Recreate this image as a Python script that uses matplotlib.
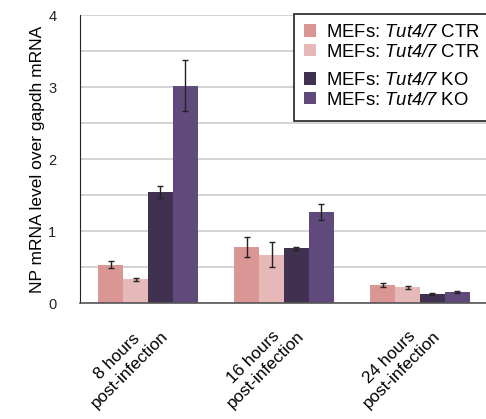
import matplotlib
matplotlib.use("Agg")
import matplotlib.pyplot as plt
import numpy as np
from matplotlib.patches import Patch, Rectangle

plt.rcParams['font.family'] = ['Liberation Sans', 'DejaVu Sans']
plt.rcParams['mathtext.fontset'] = 'custom'
plt.rcParams['mathtext.it'] = 'Liberation Sans:italic'
plt.rcParams['mathtext.rm'] = 'Liberation Sans:italic'

categories = ["8 hours\npost-infection", "16 hours\npost-infection", "24 hours\npost-infection"]
series_labels = [r"MEFs: $Tut4/7$ CTR", r"MEFs: $Tut4/7$ CTR",
                 r"MEFs: $Tut4/7$ KO", r"MEFs: $Tut4/7$ KO"]
ctr1 = [0.53, 0.78, 0.25]
ctr2 = [0.33, 0.67, 0.22]
ko1 = [1.54, 0.76, 0.125]
ko2 = [3.02, 1.26, 0.15]
ctr1_err = [0.05, 0.14, 0.03]
ctr2_err = [0.02, 0.175, 0.02]
ko1_err = [0.085, 0.02, 0.01]
ko2_err = [0.36, 0.11, 0.015]
colors = ["#D99694", "#E6B9B8", "#403151", "#604A7B"]

values = [ctr1, ctr2, ko1, ko2]
errors = [ctr1_err, ctr2_err, ko1_err, ko2_err]

fig = plt.figure(figsize=(4.86, 4.19), dpi=100)
ax = fig.add_axes([80/486, 1-303/419, 408/486, 288/419])

x = np.arange(len(categories))
w = 0.1825
for i, (v, e, c) in enumerate(zip(values, errors, colors)):
    pos = x + (i - 1.5) * w
    ax.bar(pos, v, width=w, color=c, zorder=2)
    ax.errorbar(pos, v, yerr=e, fmt='none', ecolor='#222222', elinewidth=1.0,
                capsize=2, capthick=1.0, zorder=3)

ax.set_xlim(-0.5, 2.5)
ax.set_ylim(0, 4)
ax.set_yticks([0, 1, 2, 3, 4])
ax.set_yticks(np.arange(0, 4.01, 0.5), minor=True)
ax.grid(axis='y', which='both', color='#d0d0d0', linewidth=1.3, zorder=0)
ax.set_axisbelow(True)
ax.tick_params(axis='y', which='both', length=0, pad=17, labelsize=10.5, labelcolor='#222222')
ax.tick_params(axis='x', length=0, pad=9, labelsize=12.3)
ax.set_xticks(x)
ax.set_xticklabels(categories, rotation=45, ha='right', rotation_mode='anchor',
                   multialignment='center', linespacing=1.25)
for s in ['top', 'right']:
    ax.spines[s].set_visible(False)
ax.spines['left'].set_color('#222222')
ax.spines['bottom'].set_color('#555555')
ax.spines['bottom'].set_linewidth(1.2)
ax.set_ylabel("NP mRNA level over gapdh mRNA", fontsize=12.5, labelpad=2)

# legend
frame = Rectangle((294/486, 1-121/419), 200/486, 107/419, transform=fig.transFigure,
                  facecolor='white', edgecolor='#222222', linewidth=1.2, zorder=5)
fig.patches.append(frame)
h1 = [Patch(facecolor=colors[0]), Patch(facecolor=colors[1])]
h2 = [Patch(facecolor=colors[2]), Patch(facecolor=colors[3])]
kw = dict(loc='upper left', frameon=False, fontsize=13.3, handlelength=0.65, handleheight=0.65,
          handletextpad=0.55, labelspacing=0.15, borderpad=0, borderaxespad=0)
leg1 = fig.legend(h1, series_labels[:2], bbox_to_anchor=(304/486, 1-24/419), **kw)
leg2 = fig.legend(h2, series_labels[2:], bbox_to_anchor=(304/486, 1-72/419), **kw)
leg1.set_zorder(6)
leg2.set_zorder(6)

fig.savefig("out.png", dpi=100)
